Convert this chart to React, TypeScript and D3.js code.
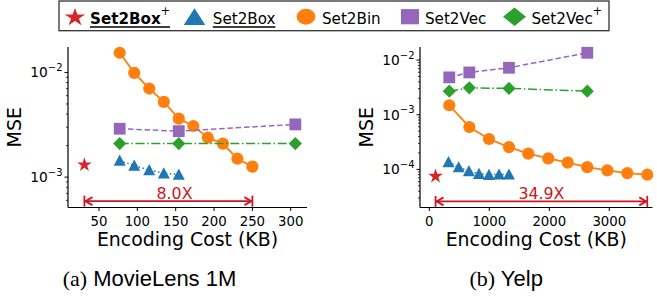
import React, { useLayoutEffect, useRef, useState } from "react";
import * as d3 from "d3";

// ---------- data: (a) MovieLens 1M ----------
const mlBinX = [77, 96, 115.5, 134.5, 154, 173, 192, 211.5, 230.5, 250];
const mlBinY = [0.0154, 0.0099, 0.00702, 0.00523, 0.00362, 0.00308, 0.00238, 0.00209, 0.0015, 0.00126];
const mlVecX = [77, 154, 306];
const mlVecY = [0.0029, 0.00275, 0.00319];
const mlVecPlusX = [77, 154, 306];
const mlVecPlusY = [0.00209, 0.00209, 0.00209];
const mlBoxX = [77, 96, 115.5, 134.5, 154];
const mlBoxY = [0.00144, 0.00129, 0.00117, 0.00109, 0.00106];
const mlBoxPlusX = [31];
const mlBoxPlusY = [0.00131];
const mlArrow = [31, 250];
const mlArrowY = 0.00059;
const mlArrowLabel = "8.0X";
const mlArrowLabelX = 148.5;
const mlXTicks = [50, 100, 150, 200, 250, 300];
const mlXDomain = [9.6, 321.2];
const mlYDomain = [Math.pow(10, -3.29), Math.pow(10, -1.757)];
const mlYTicks = [1e-3, 1e-2];

// ---------- data: (b) Yelp ----------
const ylBinX = [333, 667, 995, 1328, 1650, 1983, 2307, 2633, 2967, 3300, 3633];
const ylBinY = [0.00149, 0.000597, 0.00036, 0.000256, 0.000194, 0.000159, 0.000133, 0.00011, 0.000096, 0.0000855, 0.00008];
const ylVecX = [333, 667, 1328, 2633];
const ylVecY = [0.00482, 0.00594, 0.00723, 0.0136];
const ylVecPlusX = [333, 667, 1328, 2633];
const ylVecPlusY = [0.0027, 0.0031, 0.00303, 0.0027];
const ylBoxX = [320, 490, 660, 828, 995, 1162, 1328];
const ylBoxY = [0.000136, 0.00011, 0.000093, 0.000083, 0.00008, 0.000081, 0.000081];
const ylBoxPlusX = [104];
const ylBoxPlusY = [0.000075];
const ylArrow = [104, 3633];
const ylArrowY = 0.000026;
const ylArrowLabel = "34.9X";
const ylArrowLabelX = 1868;
const ylXTicks = [0, 1000, 2000, 3000];
const ylXDomain = [-155, 3720];
const ylYDomain = [Math.pow(10, -4.697), Math.pow(10, -1.761)];
const ylYTicks = [1e-4, 1e-3, 1e-2];

const captions = [
  { tag: "(a)", name: "MovieLens 1M" },
  { tag: "(b)", name: "Yelp" },
];

const legendNames = ["Set2Box", "Set2Box", "Set2Bin", "Set2Vec", "Set2Vec"];

// ---------- styling ----------
const C = {
  orange: "#ff7f0e",
  blue: "#1f77b4",
  purple: "#9467bd",
  green: "#2ca02c",
  red: "#d62728",
  arrow: "#cc1620",
};
const FONT = "DejaVu Sans";

type Pt = [number, number];
const zip = (xs: number[], ys: number[]): Pt[] => xs.map((x, i) => [x, ys[i]]);

function triPath(hw: number, up: number, down: number) {
  return `M0,${-up}L${hw},${down}L${-hw},${down}Z`;
}
function diamondPath(hw: number, hh: number) {
  return `M0,${-hh}L${hw},0L0,${hh}L${-hw},0Z`;
}
const starPath = (size: number) => d3.symbol().type(d3.symbolStar).size(size)() as string;

interface PanelProps {
  left: number;
  right: number;
  top: number;
  bottom: number;
  xDomain: number[];
  yDomain: number[];
  xTicks: number[];
  yTicks: number[];
  bin: Pt[];
  vec: Pt[];
  vecPlus: Pt[];
  box: Pt[];
  boxPlus: Pt[];
  arrow: number[];
  arrowY: number;
  arrowLabel: string;
  arrowLabelX: number;
  ylabelX: number;
  caption: { tag: string; name: string };
  captionX: number;
}

function Panel(p: PanelProps) {
  const x = d3.scaleLinear().domain(p.xDomain).range([p.left, p.right]);
  const y = d3.scaleLog().domain(p.yDomain).range([p.bottom, p.top]);
  const line = d3
    .line<Pt>()
    .x((d) => x(d[0]))
    .y((d) => y(d[1]));

  // minor log ticks
  const lo = Math.floor(Math.log10(p.yDomain[0]));
  const hi = Math.ceil(Math.log10(p.yDomain[1]));
  const minor: number[] = [];
  for (let k = lo; k <= hi; k++) {
    for (let m = 2; m <= 9; m++) {
      const v = m * Math.pow(10, k);
      if (v >= p.yDomain[0] && v <= p.yDomain[1]) minor.push(v);
    }
  }

  const ay = y(p.arrowY);
  const ax1 = x(p.arrow[0]);
  const ax2 = x(p.arrow[1]);

  return (
    <g>
      {/* axes */}
      <line x1={p.left} x2={p.left} y1={p.top} y2={p.bottom} stroke="#000" strokeWidth={1.2} />
      <line x1={p.left} x2={p.right} y1={p.bottom} y2={p.bottom} stroke="#000" strokeWidth={1.2} />
      {p.xTicks.map((t) => (
        <g key={"xt" + t}>
          <line x1={x(t)} x2={x(t)} y1={p.bottom} y2={p.bottom + 3.5} stroke="#000" strokeWidth={1} />
          <text x={x(t)} y={p.bottom + 18} textAnchor="middle" fontFamily={FONT} fontSize={13.3} fill="#000">
            {t}
          </text>
        </g>
      ))}
      {minor.map((t, i) => (
        <line key={"mt" + i} x1={p.left - 2} x2={p.left} y1={y(t)} y2={y(t)} stroke="#000" strokeWidth={0.8} />
      ))}
      {p.yTicks.map((t) => (
        <g key={"yt" + t}>
          <line x1={p.left - 3.5} x2={p.left} y1={y(t)} y2={y(t)} stroke="#000" strokeWidth={1} />
          <text x={p.left - 5.5} y={y(t) + 5} textAnchor="end" fontFamily={FONT} fontSize={13.8} fill="#000">
            <tspan>10</tspan>
            <tspan dy={-6.5} fontSize={10}>
              {"\u2212" + Math.round(-Math.log10(t))}
            </tspan>
          </text>
        </g>
      ))}
      <text
        transform={`translate(${p.ylabelX},${(p.top + p.bottom) / 2}) rotate(-90)`}
        textAnchor="middle"
        fontFamily={FONT}
        fontSize={19}
        fill="#000"
      >
        MSE
      </text>
      <text
        x={(p.left + p.right) / 2}
        y={245.7}
        textAnchor="middle"
        fontFamily={FONT}
        fontSize={18.9}
        fill="#000"
      >
        Encoding Cost (KB)
      </text>

      {/* Set2Bin */}
      <path d={line(p.bin) as string} fill="none" stroke={C.orange} strokeWidth={1.8} />
      {p.bin.map((d, i) => (
        <circle key={"b" + i} cx={x(d[0])} cy={y(d[1])} r={6.1} fill={C.orange} />
      ))}
      {/* Set2Vec */}
      <path d={line(p.vec) as string} fill="none" stroke={C.purple} strokeWidth={1.5} strokeDasharray="5.5,2.8" />
      {p.vec.map((d, i) => (
        <rect key={"v" + i} x={x(d[0]) - 5.9} y={y(d[1]) - 5.9} width={11.8} height={11.8} fill={C.purple} />
      ))}
      {/* Set2Vec+ */}
      <path
        d={line(p.vecPlus) as string}
        fill="none"
        stroke={C.green}
        strokeWidth={1.5}
        strokeDasharray="9,2.6,1.6,2.6"
      />
      {p.vecPlus.map((d, i) => (
        <path key={"vp" + i} transform={`translate(${x(d[0])},${y(d[1])})`} d={diamondPath(6.6, 6.6)} fill={C.green} />
      ))}
      {/* Set2Box */}
      <path d={line(p.box) as string} fill="none" stroke={C.blue} strokeWidth={1.5} strokeDasharray="1.5,2.5" />
      {p.box.map((d, i) => (
        <path key={"bx" + i} transform={`translate(${x(d[0])},${y(d[1])})`} d={triPath(6, 6, 5.2)} fill={C.blue} />
      ))}
      {/* Set2Box+ */}
      {p.boxPlus.map((d, i) => (
        <path key={"bp" + i} transform={`translate(${x(d[0])},${y(d[1])})`} d={starPath(66)} fill={C.red} />
      ))}

      {/* arrow |<->| */}
      <g stroke={C.arrow} strokeWidth={1.8} fill="none">
        <line x1={ax1} x2={ax2} y1={ay} y2={ay} />
        <line x1={ax1} x2={ax1} y1={ay - 5.5} y2={ay + 5.5} />
        <line x1={ax2} x2={ax2} y1={ay - 5.5} y2={ay + 5.5} />
        <path d={`M${ax1 + 8},${ay - 4}L${ax1 + 1},${ay}L${ax1 + 8},${ay + 4}`} />
        <path d={`M${ax2 - 8},${ay - 4}L${ax2 - 1},${ay}L${ax2 - 8},${ay + 4}`} />
      </g>
      <text x={x(p.arrowLabelX)} y={ay - 2.5} textAnchor="middle" fontFamily={FONT} fontSize={15.8} fill={C.arrow}>
        {p.arrowLabel}
      </text>

      {/* caption */}
      <text x={p.captionX} y={286} fontSize={22} fill="#000">
        <tspan fontFamily="Liberation Serif">{p.caption.tag}</tspan>
        <tspan fontFamily="Liberation Sans">{" " + p.caption.name}</tspan>
      </text>
    </g>
  );
}

function LegendLabel(props: { x: number; y: number; name: string; bold?: boolean; sup?: boolean; underline?: boolean }) {
  const ref = useRef<SVGTextElement>(null);
  const [w, setW] = useState(0);
  useLayoutEffect(() => {
    if (ref.current) setW(ref.current.getBBox().width);
  }, []);
  const sx = 0.93;
  return (
    <g transform={`translate(${props.x},${props.y}) scale(${sx},1)`}>
      <text ref={ref} x={0} y={0} fontFamily={FONT} fontSize={16.3} fontWeight={props.bold ? "bold" : "normal"} fill="#000">
        <tspan>{props.name}</tspan>
        {props.sup ? (
          <tspan dy={-9} fontSize={12} fontWeight="normal">
            +
          </tspan>
        ) : null}
      </text>
      {props.underline && w > 0 ? <line x1={0} x2={w} y1={3} y2={3} stroke="#000" strokeWidth={1.3} /> : null}
    </g>
  );
}

function Legend() {
  const cy = 16.7;
  const by = 24;
  return (
    <g>
      <rect x={59} y={1} width={550} height={29.7} fill="#fff" stroke="#333" strokeWidth={1.3} />
      <path transform={`translate(75,${cy + 0.8}) scale(1.15,1)`} d={starPath(100)} fill={C.red} />
      <LegendLabel x={90} y={by} name={legendNames[0]} bold sup underline />
      <path transform={`translate(194.5,${cy})`} d={triPath(10.8, 8.4, 8.4)} fill={C.blue} />
      <LegendLabel x={212.8} y={by} name={legendNames[1]} underline />
      <ellipse cx={306} cy={cy} rx={9.3} ry={8} fill={C.orange} />
      <LegendLabel x={322} y={by} name={legendNames[2]} />
      <rect x={410 - 9} y={cy - 7.6} width={18} height={15.2} fill={C.purple} />
      <LegendLabel x={425} y={by} name={legendNames[3]} />
      <path transform={`translate(514.5,${cy})`} d={diamondPath(11.5, 9.3)} fill={C.green} />
      <LegendLabel x={531.4} y={by} name={legendNames[4]} sup />
    </g>
  );
}

export default function App() {
  return (
    <svg
      width={657}
      height={297}
      viewBox="0 0 657 297"
      style={{ position: "absolute", left: 0, top: 0, background: "#fff" }}
    >
      <rect x={0} y={0} width={657} height={297} fill="#fff" />
      <Panel
        left={68}
        right={307}
        top={47}
        bottom={207.5}
        xDomain={mlXDomain}
        yDomain={mlYDomain}
        xTicks={mlXTicks}
        yTicks={mlYTicks}
        bin={zip(mlBinX, mlBinY)}
        vec={zip(mlVecX, mlVecY)}
        vecPlus={zip(mlVecPlusX, mlVecPlusY)}
        box={zip(mlBoxX, mlBoxY)}
        boxPlus={zip(mlBoxPlusX, mlBoxPlusY)}
        arrow={mlArrow}
        arrowY={mlArrowY}
        arrowLabel={mlArrowLabel}
        arrowLabelX={mlArrowLabelX}
        ylabelX={20.9}
        caption={captions[0]}
        captionX={62.7}
      />
      <Panel
        left={420}
        right={652.5}
        top={47}
        bottom={207.5}
        xDomain={ylXDomain}
        yDomain={ylYDomain}
        xTicks={ylXTicks}
        yTicks={ylYTicks}
        bin={zip(ylBinX, ylBinY)}
        vec={zip(ylVecX, ylVecY)}
        vecPlus={zip(ylVecPlusX, ylVecPlusY)}
        box={zip(ylBoxX, ylBoxY)}
        boxPlus={zip(ylBoxPlusX, ylBoxPlusY)}
        arrow={ylArrow}
        arrowY={ylArrowY}
        arrowLabel={ylArrowLabel}
        arrowLabelX={ylArrowLabelX}
        ylabelX={372.7}
        caption={captions[1]}
        captionX={469.5}
      />
      <Legend />
    </svg>
  );
}
